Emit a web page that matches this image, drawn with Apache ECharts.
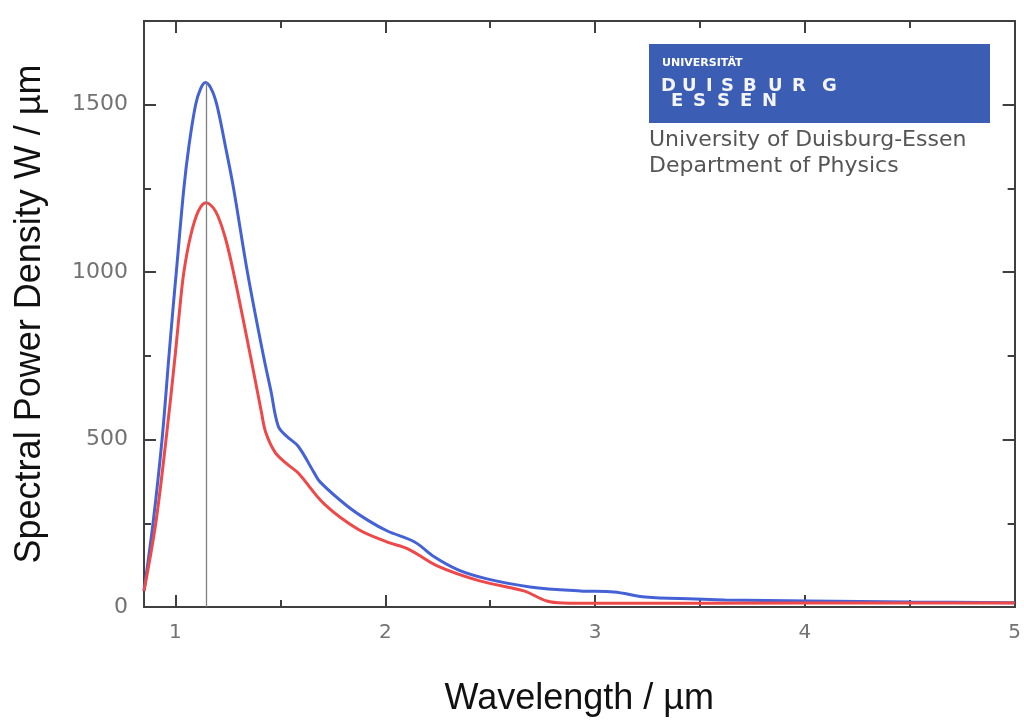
<!DOCTYPE html>
<html>
<head>
<meta charset="utf-8">
<script src="https://cdn.jsdelivr.net/npm/echarts@6/dist/echarts.min.js"></script>
<style>
html,body{margin:0;padding:0;background:#ffffff;}
#chart{width:1024px;height:722px;}
</style>
</head>
<body>
<div id="chart"></div>
<script>
// ---- data ----
const blueX = [0.85,0.893,0.936,0.969,0.988,1.004,1.04,1.064,1.096,1.12,1.143,1.17,1.197,1.238,1.277,1.343,1.42,1.455,1.49,1.53,1.585,1.66,1.69,1.82,1.92,2.01,2.14,2.235,2.35,2.485,2.69,2.93,3.09,3.24,3.48,3.62,4.02,4.5,5.0];
const blueY = [48,250,500,750,889,1000,1250,1376,1500,1548,1566,1548,1500,1376,1250,1000,748,645,540,510,480,402,373,301,258,227,194,149,110,84,60,48,45,30,24,21,18,15,13];
const redX  = [0.85,0.906,0.955,1.0,1.02,1.04,1.072,1.109,1.146,1.19,1.235,1.277,1.358,1.41,1.43,1.475,1.53,1.585,1.71,1.87,2.01,2.11,2.25,2.45,2.66,2.77,2.85,3.0,4.0,5.0];
const redY  = [48,250,500,760,889,1000,1108,1182,1207,1183,1108,998,748,581,522,462,428,400,307,232,194,173,122,78,48,18,12,11,12,12];
const peakX = 1.145;
const peakY = 1566;
const xMajorTicks = [1,2,3,4,5];
const xMinorTicks = [1.5,2.5,3.5,4.5];
const yMajorTicks = [0,500,1000,1500];
const yMinorTicks = [250,750,1250];
const xTitle = 'Wavelength / µm';
const yTitle = 'Spectral Power Density W / µm';
const logoLine1 = 'University of Duisburg-Essen';
const logoLine2 = 'Department of Physics';

const AX = '#3f3f3f';
const LBL = '#727272';
const labelFont = 'DejaVu Sans';

function axis(kind, pos, ticks, len, opts) {
  const base = {
    type: 'value',
    position: pos,
    min: kind === 'x' ? 0.85 : 0,
    max: kind === 'x' ? 5 : 1750,
    axisLine: {show: true, onZero: false, lineStyle: {color: AX, width: 2}},
    axisTick: {show: true, inside: true, length: len, customValues: ticks, lineStyle: {color: AX, width: 2}},
    axisLabel: {show: false},
    splitLine: {show: false}
  };
  return Object.assign(base, opts || {});
}

const chart = echarts.init(document.getElementById('chart'), null, {renderer: 'canvas'});

const xAxes = [
  axis('x', 'bottom', xMajorTicks, 12, {
    axisLabel: {show: true, customValues: xMajorTicks, formatter: v => String(v), color: LBL, fontSize: 20, fontFamily: labelFont, margin: 16},
    name: xTitle, nameLocation: 'middle', nameGap: 74,
    nameTextStyle: {fontSize: 36, fontFamily: 'Liberation Sans, Arial', color: '#111'}
  }),
  axis('x', 'bottom', xMinorTicks, 7),
  axis('x', 'top', xMajorTicks, 12),
  axis('x', 'top', xMinorTicks, 7)
];
const yAxes = [
  axis('y', 'left', yMajorTicks, 12, {
    axisLabel: {show: true, customValues: yMajorTicks, formatter: v => String(v), color: LBL, fontSize: 22, fontFamily: labelFont, margin: 16},
    name: yTitle, nameLocation: 'middle', nameGap: 96,
    nameTextStyle: {fontSize: 36, fontFamily: 'Liberation Sans, Arial', color: '#111'}
  }),
  axis('y', 'left', yMinorTicks, 7),
  axis('y', 'right', yMajorTicks, 12),
  axis('y', 'right', yMinorTicks, 7)
];

const blueData = blueX.map((x, i) => [x, blueY[i]]);
const redData = redX.map((x, i) => [x, redY[i]]);

const letters1 = [['D',661],['U',682],['I',706],['S',721],['B',743],['U',768],['R',792],['G',822]];
const letters2 = [['E',671],['S',693],['S',717],['E',740],['N',762]];
const logoGraphics = [
  {type: 'rect', shape: {x: 649, y: 44, width: 341, height: 79}, style: {fill: '#3b5db4'}, z: 10},
  {type: 'text', x: 662, y: 63, style: {text: 'UNIVERSITÄT', fill: '#ffffff', font: 'bold 11px "DejaVu Sans"', verticalAlign: 'middle'}, z: 11}
];
letters1.forEach(([ch, x]) => logoGraphics.push({type: 'text', x: x, y: 86.5, style: {text: ch, fill: '#f4f4f4', font: 'bold 18px "DejaVu Sans"', verticalAlign: 'middle'}, z: 11}));
letters2.forEach(([ch, x]) => logoGraphics.push({type: 'text', x: x, y: 101.5, style: {text: ch, fill: '#f4f4f4', font: 'bold 18px "DejaVu Sans"', verticalAlign: 'middle'}, z: 11}));
logoGraphics.push({type: 'text', x: 649, y: 140, style: {text: logoLine1, fill: '#555555', font: '22px "DejaVu Sans"', verticalAlign: 'middle'}, z: 11});
logoGraphics.push({type: 'text', x: 649, y: 166, style: {text: logoLine2, fill: '#555555', font: '22px "DejaVu Sans"', verticalAlign: 'middle'}, z: 11});

chart.setOption({
  backgroundColor: '#ffffff',
  animation: false,
  grid: {left: 144, right: 4, top: 21, bottom: 114, containLabel: false},
  xAxis: xAxes,
  yAxis: yAxes,
  graphic: logoGraphics,
  series: [
    {
      type: 'line', name: 'blue', data: blueData, xAxisIndex: 0, yAxisIndex: 0,
      smooth: 0.35, symbol: 'none',
      lineStyle: {color: '#4462d6', width: 3},
      z: 3,
      markLine: {
        silent: true, symbol: 'none', label: {show: false},
        lineStyle: {color: '#808080', width: 1.3, type: 'solid'},
        data: [[{coord: [peakX, 0]}, {coord: [peakX, peakY]}]]
      }
    },
    {
      type: 'line', name: 'red', data: redData, xAxisIndex: 0, yAxisIndex: 0,
      smooth: 0.35, symbol: 'none',
      lineStyle: {color: '#ee4848', width: 3},
      z: 4
    }
  ]
});
</script>
</body>
</html>
